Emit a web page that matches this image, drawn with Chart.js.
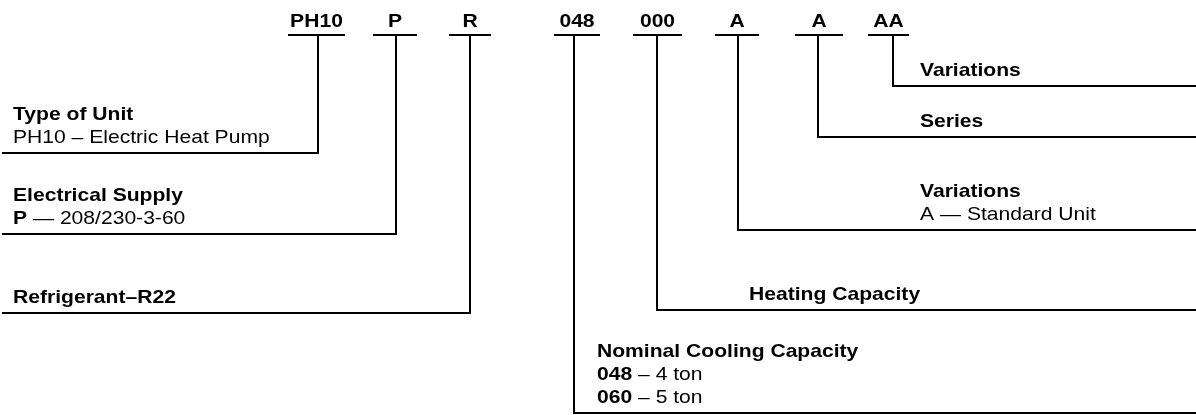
<!DOCTYPE html>
<html><head><meta charset="utf-8">
<script src="https://cdn.jsdelivr.net/npm/chart.js@4/dist/chart.umd.min.js"></script>
<style>html,body{margin:0;padding:0;background:#fff}canvas{display:block}</style>
</head><body>
<canvas id="c" width="1196" height="415"></canvas>
<script>
// Model-number segments (top row)
const codes = ['PH10','P','R','048','000','A','A','AA'];
// diagram coordinates (x across 0..1196, y down 0..415)
const stemX    = [318, 396, 470, 574, 657, 738, 818, 893];
const barFrom  = [288, 373, 449, 554, 633, 715, 795, 868];
const barTo    = [345, 417, 491, 600, 682, 759, 843, 909];
const leaderY  = [153, 234, 313, 413, 310, 230, 137, 86];
const leaderEnd= [2, 2, 2, 1196, 1196, 1196, 1196, 1196];
const descX    = [13, 13, 13, 597, 749, 920, 920, 920];
const descTitle = ['Type of Unit','Electrical Supply','Refrigerant–R22','Nominal Cooling Capacity','Heating Capacity','Variations','Series','Variations'];
// lines under each title: list of lines, each a list of [text, bold]
const descLines = [
  [[['PH10 – Electric Heat Pump',0]]],
  [[['P',1],[' — 208/230-3-60',0]]],
  [],
  [[['048',1],[' – 4 ton',0]], [['060',1],[' – 5 ton',0]]],
  [],
  [[['A — Standard Unit',0]]],
  [],
  []
];
const barY = 35;
const codeBaseline = 27;

const FONT = '"Liberation Sans", Arial, Helvetica, sans-serif';
const FSIZE = 19;
const SX = 1.11;   // horizontal stretch of the source figure
const LINE_GAP = 23;

const datasets = [];
codes.forEach((c, i) => {
  datasets.push({ data: [{x: barFrom[i], y: barY}, {x: barTo[i], y: barY}] });
  datasets.push({ data: [{x: stemX[i], y: barY}, {x: stemX[i], y: leaderY[i]}, {x: leaderEnd[i], y: leaderY[i]}] });
});
datasets.forEach(d => Object.assign(d, {
  showLine: true, borderColor: '#000', borderWidth: 2, pointRadius: 0,
  fill: false, tension: 0, borderJoinStyle: 'miter', borderCapStyle: 'butt'
}));

const textPlugin = {
  id: 'nomenclatureText',
  afterDatasetsDraw(chart) {
    const ctx = chart.ctx, xs = chart.scales.x, ys = chart.scales.y;
    const drawSegs = (segs, px, py, align) => {
      let total = 0;
      segs.forEach(([t, b]) => { ctx.font = (b ? 'bold ' : '') + FSIZE + 'px ' + FONT; total += ctx.measureText(t).width * SX; });
      let x = align === 'center' ? px - total / 2 : px;
      segs.forEach(([t, b]) => {
        ctx.font = (b ? 'bold ' : '') + FSIZE + 'px ' + FONT;
        const w = ctx.measureText(t).width;
        ctx.save();
        ctx.translate(x, py);
        ctx.scale(SX, 1);
        ctx.fillText(t, 0, 0);
        ctx.restore();
        x += w * SX;
      });
    };
    ctx.save();
    ctx.fillStyle = '#000';
    ctx.textBaseline = 'alphabetic';
    ctx.textAlign = 'left';
    codes.forEach((c, i) => {
      drawSegs([[c, 1]], xs.getPixelForValue((barFrom[i] + barTo[i]) / 2), ys.getPixelForValue(codeBaseline), 'center');
    });
    descTitle.forEach((t, i) => {
      const lines = descLines[i];
      const lastBase = leaderY[i] - 10;
      const titleBase = lastBase - LINE_GAP * lines.length;
      const px = xs.getPixelForValue(descX[i]);
      drawSegs([[t, 1]], px, ys.getPixelForValue(titleBase), 'left');
      lines.forEach((segs, k) => {
        drawSegs(segs, px, ys.getPixelForValue(titleBase + LINE_GAP * (k + 1)), 'left');
      });
    });
    ctx.restore();
  }
};

new Chart(document.getElementById('c'), {
  type: 'scatter',
  data: { datasets },
  options: {
    responsive: false, animation: false, devicePixelRatio: 1,
    layout: { padding: 0 },
    plugins: { legend: { display: false }, tooltip: { enabled: false } },
    scales: {
      x: { type: 'linear', min: 0, max: 1196, display: false },
      y: { type: 'linear', min: 0, max: 415, reverse: true, display: false }
    },
    elements: { line: { borderWidth: 2 } }
  },
  plugins: [textPlugin]
});
</script>
</body></html>
